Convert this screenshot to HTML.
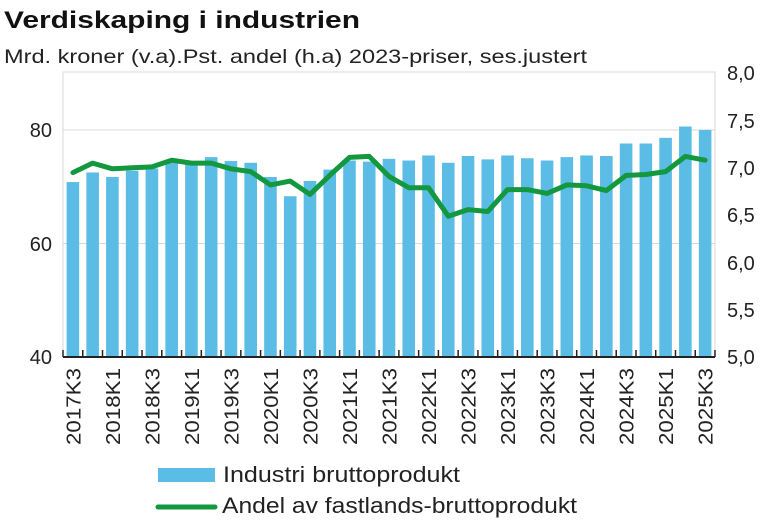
<!DOCTYPE html>
<html><head><meta charset="utf-8"><style>
body{margin:0;background:#fff;}
svg{display:block;font-family:"Liberation Sans","DejaVu Sans",sans-serif;}
</style></head><body>
<svg width="770" height="529" viewBox="0 0 770 529" xmlns="http://www.w3.org/2000/svg">
<text x="4" y="28" font-size="24" font-weight="bold" fill="#111" textLength="356" lengthAdjust="spacingAndGlyphs">Verdiskaping i industrien</text>
<text x="4" y="63" font-size="19.5" fill="#222" textLength="583" lengthAdjust="spacingAndGlyphs">Mrd. kroner (v.a).Pst. andel (h.a) 2023-priser, ses.justert</text>
<rect x="63" y="72" width="652" height="285" fill="none" stroke="#d9d9d9" stroke-width="1"/>
<line x1="63" y1="130" x2="715" y2="130" stroke="#d9d9d9"/>
<line x1="63" y1="243.5" x2="715" y2="243.5" stroke="#d9d9d9"/>
<g font-size="20" fill="#222" text-anchor="end">
<text x="52" y="137">80</text><text x="52" y="251">60</text><text x="52" y="364">40</text>
</g>
<g font-size="20" fill="#222">
<text x="727" y="80">8,0</text><text x="727" y="128">7,5</text><text x="727" y="175">7,0</text><text x="727" y="222">6,5</text><text x="727" y="270">6,0</text><text x="727" y="317">5,5</text><text x="727" y="364">5,0</text>
</g>
<g id="bars" fill="#5bbde6"></g>
<g id="ticks" stroke="#222" stroke-width="1.5"></g>
<line x1="63" y1="357" x2="715" y2="357" stroke="#222" stroke-width="2"/>
<polyline id="ln" fill="none" stroke="#13973f" stroke-width="5" stroke-linejoin="round" stroke-linecap="round"/>
<g id="xl" font-size="20" fill="#222"></g>
<rect x="158" y="468" width="57" height="14" fill="#5bbde6"/>
<text x="223" y="482" font-size="22" fill="#222" textLength="237" lengthAdjust="spacingAndGlyphs">Industri bruttoprodukt</text>
<line x1="158" y1="507" x2="215" y2="507" stroke="#13973f" stroke-width="5" stroke-linecap="round"/>
<text x="222" y="513" font-size="22" fill="#222" textLength="355" lengthAdjust="spacingAndGlyphs">Andel av fastlands-bruttoprodukt</text>
<script>
var bars=[70.8,72.5,71.7,72.8,73.2,74.5,74.5,75.2,74.5,74.2,71.7,68.3,71.0,73.0,74.6,74.4,74.9,74.6,75.5,74.2,75.4,74.8,75.5,75.0,74.6,75.2,75.5,75.4,77.6,77.6,78.6,80.6,80.0];
var ln=[6.94,7.04,6.98,6.99,7.0,7.07,7.04,7.04,6.98,6.95,6.81,6.85,6.71,6.91,7.10,7.11,6.90,6.78,6.78,6.48,6.55,6.53,6.76,6.76,6.72,6.81,6.80,6.75,6.91,6.92,6.95,7.11,7.07];
var ns="http://www.w3.org/2000/svg",w=652/33,g=document.getElementById("bars"),t=document.getElementById("ticks"),xl=document.getElementById("xl"),pts=[];
for(var i=0;i<33;i++){
 var c=63+w*(i+0.5),y=356.6-(bars[i]-40)*5.667;
 var r=document.createElementNS(ns,"rect");r.setAttribute("x",c-6.3);r.setAttribute("y",y);r.setAttribute("width",12.6);r.setAttribute("height",357-y);g.appendChild(r);
 pts.push(c.toFixed(1)+","+(72+(8-ln[i])*94.87).toFixed(1));
 if(i%2==0){var q=2017+Math.floor((i+2)/4),k=(i%4==0)?"K3":"K1";
  var tx=document.createElementNS(ns,"text");tx.setAttribute("transform","translate("+(c+7.5)+",445) rotate(-90)");tx.setAttribute("textLength","77");tx.setAttribute("lengthAdjust","spacingAndGlyphs");tx.textContent=q+k;xl.appendChild(tx);}
}
for(var i=0;i<=33;i++){var x=63+w*i;var l=document.createElementNS(ns,"line");l.setAttribute("x1",x);l.setAttribute("x2",x);l.setAttribute("y1",350);l.setAttribute("y2",357);t.appendChild(l);}
document.getElementById("ln").setAttribute("points",pts.join(" "));
</script>
</svg>
</body></html>
